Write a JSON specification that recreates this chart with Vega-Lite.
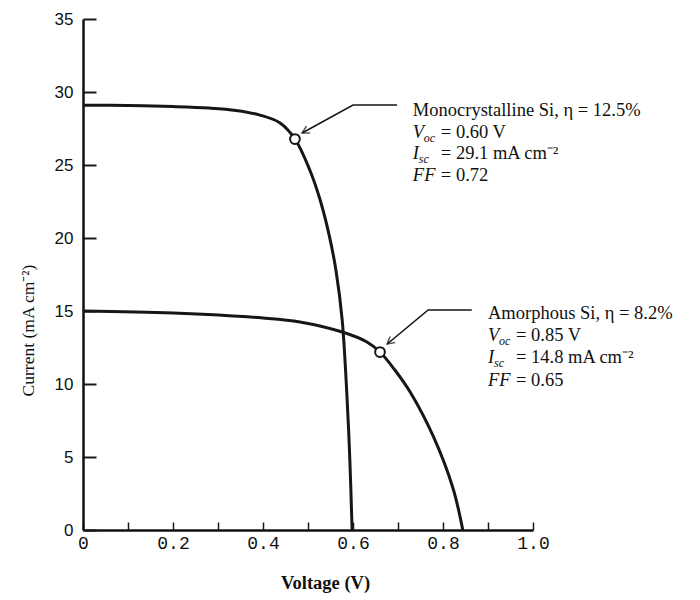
{
  "$schema": "https://vega.github.io/schema/vega-lite/v6.json",
  "width": 450,
  "height": 511,
  "autosize": {"type": "none"},
  "padding": {"left": 83, "top": 19, "right": 167, "bottom": 70},
  "background": "white",
  "config": {"view": {"stroke": null}, "font": "Liberation Serif"},
  "datasets": {
    "curves": [
      {"cell": "Monocrystalline Si", "V": 0, "I": 29.1},
      {"cell": "Monocrystalline Si", "V": 0.1, "I": 29.07},
      {"cell": "Monocrystalline Si", "V": 0.2, "I": 29.0},
      {"cell": "Monocrystalline Si", "V": 0.28, "I": 28.9},
      {"cell": "Monocrystalline Si", "V": 0.34, "I": 28.74},
      {"cell": "Monocrystalline Si", "V": 0.393, "I": 28.42},
      {"cell": "Monocrystalline Si", "V": 0.438, "I": 27.88},
      {"cell": "Monocrystalline Si", "V": 0.471, "I": 26.78},
      {"cell": "Monocrystalline Si", "V": 0.504, "I": 24.66},
      {"cell": "Monocrystalline Si", "V": 0.527, "I": 22.6},
      {"cell": "Monocrystalline Si", "V": 0.547, "I": 20.2},
      {"cell": "Monocrystalline Si", "V": 0.562, "I": 17.81},
      {"cell": "Monocrystalline Si", "V": 0.576, "I": 14.38},
      {"cell": "Monocrystalline Si", "V": 0.587, "I": 8.9},
      {"cell": "Monocrystalline Si", "V": 0.593, "I": 4.79},
      {"cell": "Monocrystalline Si", "V": 0.598, "I": 0},
      {"cell": "Amorphous Si", "V": 0, "I": 15.0},
      {"cell": "Amorphous Si", "V": 0.2, "I": 14.86},
      {"cell": "Amorphous Si", "V": 0.4, "I": 14.52},
      {"cell": "Amorphous Si", "V": 0.482, "I": 14.25},
      {"cell": "Amorphous Si", "V": 0.576, "I": 13.56},
      {"cell": "Amorphous Si", "V": 0.631, "I": 12.88},
      {"cell": "Amorphous Si", "V": 0.66, "I": 12.19},
      {"cell": "Amorphous Si", "V": 0.693, "I": 10.96},
      {"cell": "Amorphous Si", "V": 0.727, "I": 9.45},
      {"cell": "Amorphous Si", "V": 0.778, "I": 6.44},
      {"cell": "Amorphous Si", "V": 0.822, "I": 2.88},
      {"cell": "Amorphous Si", "V": 0.844, "I": 0}
    ],
    "points": [
      {"cell": "Monocrystalline Si", "V": 0.471, "I": 26.78},
      {"cell": "Amorphous Si", "V": 0.66, "I": 12.19}
    ],
    "leaders": [
      {"cell": "Monocrystalline Si", "step": 1, "V": 0.487, "I": 27.19},
      {"cell": "Monocrystalline Si", "step": 2, "V": 0.6, "I": 29.11},
      {"cell": "Monocrystalline Si", "step": 3, "V": 0.698, "I": 29.11},
      {"cell": "Amorphous Si", "step": 1, "V": 0.676, "I": 12.74},
      {"cell": "Amorphous Si", "step": 2, "V": 0.767, "I": 15.07},
      {"cell": "Amorphous Si", "step": 3, "V": 0.864, "I": 15.07}
    ],
    "titles": [
      {"cell": "Monocrystalline Si", "V": 0.733, "I": 28.77, "text": "Monocrystalline Si, η = 12.5%"},
      {"cell": "Amorphous Si", "V": 0.9, "I": 14.86, "text": "Amorphous Si, η = 8.2%"}
    ],
    "params": [
      {"cell": "Monocrystalline Si", "V": 0.733, "I": 27.26, "sym": "V", "sub": "oc", "val": "= 0.60 V"},
      {"cell": "Monocrystalline Si", "V": 0.733, "I": 25.82, "sym": "I", "sub": "sc", "val": "= 29.1 mA cm⁻²"},
      {"cell": "Monocrystalline Si", "V": 0.733, "I": 24.32, "sym": "FF", "sub": "", "val": "= 0.72"},
      {"cell": "Amorphous Si", "V": 0.9, "I": 13.36, "sym": "V", "sub": "oc", "val": "= 0.85 V"},
      {"cell": "Amorphous Si", "V": 0.9, "I": 11.85, "sym": "I", "sub": "sc", "val": "= 14.8 mA cm⁻²"},
      {"cell": "Amorphous Si", "V": 0.9, "I": 10.27, "sym": "FF", "sub": "", "val": "= 0.65"}
    ]
  },
  "encoding": {
    "x": {
      "field": "V", "type": "quantitative",
      "scale": {"domain": [0, 1], "nice": false, "zero": false},
      "axis": {
        "title": "Voltage (V)",
        "values": [0, 0.1, 0.2, 0.3, 0.4, 0.5, 0.6, 0.7, 0.8, 0.9, 1.0],
        "labelExpr": "datum.value == 0 ? '0' : (round(datum.value * 10) % 2 == 0 ? format(datum.value, '.1f') : '')",
        "grid": false,
        "tickSize": -8,
        "tickWidth": 1.5,
        "tickColor": "#1a1a1a",
        "domainColor": "#111111",
        "domainWidth": 2.5,
        "labelFont": "Liberation Mono",
        "labelFontSize": 18,
        "labelColor": "#111111",
        "labelPadding": 12,
        "labelFlush": false,
        "titleFont": "Liberation Serif",
        "titleFontSize": 18.5,
        "titleFontWeight": "bold",
        "titleColor": "#111111",
        "titlePadding": 21,
        "titleX": 242
      }
    },
    "y": {
      "field": "I", "type": "quantitative",
      "scale": {"domain": [0, 35], "nice": false},
      "axis": {
        "title": "Current (mA cm⁻²)",
        "values": [0, 5, 10, 15, 20, 25, 30, 35],
        "grid": false,
        "tickSize": -13,
        "tickWidth": 2,
        "tickColor": "#1a1a1a",
        "domainColor": "#111111",
        "domainWidth": 2.5,
        "labelFont": "Liberation Sans",
        "labelFontSize": 17,
        "labelColor": "#111111",
        "labelPadding": 23,
        "labelFlush": false,
        "titleFont": "Liberation Serif",
        "titleFontSize": 17.5,
        "titleFontWeight": "normal",
        "titleColor": "#111111",
        "titlePadding": 17,
        "titleY": 311
      }
    }
  },
  "layer": [
    {
      "data": {"name": "curves"},
      "mark": {"type": "line", "interpolate": "catmull-rom", "strokeWidth": 3, "color": "#161616"},
      "encoding": {"detail": {"field": "cell"}}
    },
    {
      "data": {"name": "leaders"},
      "mark": {"type": "line", "strokeWidth": 1.6, "color": "#161616"},
      "encoding": {"detail": {"field": "cell"}, "order": {"field": "step", "type": "quantitative"}}
    },
    {
      "data": {"name": "leaders"},
      "transform": [{"filter": "datum.step == 1 && datum.cell == 'Monocrystalline Si'"}],
      "mark": {"type": "point", "shape": "M-1,-0.55L0,0L-1,0.55", "filled": false, "stroke": "#161616", "strokeWidth": 1.6, "size": 200, "angle": 151}
    },
    {
      "data": {"name": "leaders"},
      "transform": [{"filter": "datum.step == 1 && datum.cell == 'Amorphous Si'"}],
      "mark": {"type": "point", "shape": "M-1,-0.55L0,0L-1,0.55", "filled": false, "stroke": "#161616", "strokeWidth": 1.6, "size": 200, "angle": 140}
    },
    {
      "data": {"name": "points"},
      "mark": {"type": "point", "shape": "circle", "filled": true, "fill": "white", "stroke": "#161616", "strokeWidth": 2, "size": 95, "opacity": 1}
    },
    {
      "data": {"name": "titles"},
      "mark": {"type": "text", "align": "left", "baseline": "middle", "font": "Liberation Serif", "fontSize": 18.5, "color": "#111111"},
      "encoding": {"text": {"field": "text"}}
    },
    {
      "data": {"name": "params"},
      "mark": {"type": "text", "align": "left", "baseline": "middle", "font": "Liberation Serif", "fontSize": 18.5, "fontStyle": "italic", "color": "#111111"},
      "encoding": {"text": {"field": "sym"}}
    },
    {
      "data": {"name": "params"},
      "transform": [{"filter": "datum.sym == 'V'"}],
      "mark": {"type": "text", "align": "left", "baseline": "middle", "font": "Liberation Serif", "fontSize": 12, "fontStyle": "italic", "color": "#111111", "dx": 11, "dy": 6},
      "encoding": {"text": {"field": "sub"}}
    },
    {
      "data": {"name": "params"},
      "transform": [{"filter": "datum.sym == 'I'"}],
      "mark": {"type": "text", "align": "left", "baseline": "middle", "font": "Liberation Serif", "fontSize": 12, "fontStyle": "italic", "color": "#111111", "dx": 6, "dy": 6},
      "encoding": {"text": {"field": "sub"}}
    },
    {
      "data": {"name": "params"},
      "mark": {"type": "text", "align": "left", "baseline": "middle", "font": "Liberation Serif", "fontSize": 18.5, "color": "#111111", "dx": 28},
      "encoding": {"text": {"field": "val"}}
    }
  ]
}
